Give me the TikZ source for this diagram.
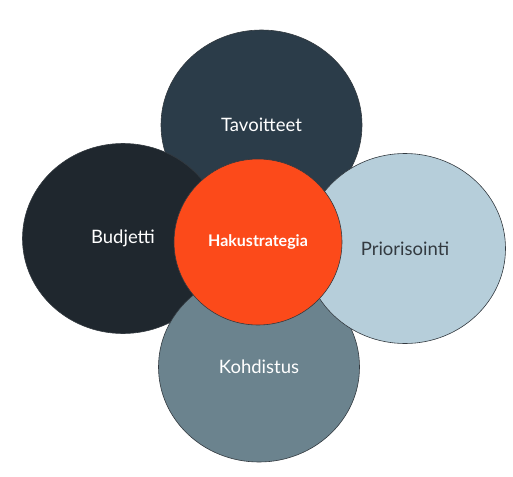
\documentclass[tikz,border=0pt]{standalone}
\usepackage{fontspec}
\setmainfont{Lato}
\usepackage{tikz}
\usetikzlibrary{shapes.geometric}
\definecolor{slate}{HTML}{2B3C49}
\definecolor{night}{HTML}{1F272E}
\definecolor{steel}{HTML}{6B838E}
\definecolor{mist}{HTML}{B6CEDA}
\definecolor{flame}{HTML}{FC4A1A}
\definecolor{rim}{HTML}{333A40}

\begin{document}
\begin{tikzpicture}[x=1pt,y=-1pt]
\tikzstyle{every node}+=[inner sep=0pt]
\tikzstyle{petal}=[ellipse, draw=rim, line width=0.6pt, minimum width=201pt, minimum height=190pt, text=white, font=\fontsize{18.5}{21}\selectfont]
\useasboundingbox (0,0) rectangle (513,476);
\node [petal, fill=slate] (tavoitteet) at (261.5,125) {Tavoitteet};
\node [petal, fill=night] (budjetti) at (123,238.5) {Budjetti};
\node [petal, fill=steel] (kohdistus) at (259,367) {Kohdistus};
\node [petal, fill=mist, text=rim] (priorisointi) at (405,248.5) {Priorisointi};
\node [ellipse, draw=rim, line width=0.6pt, fill=flame, minimum width=168pt, minimum height=166pt, text=white, font=\bfseries\fontsize{16}{19}\selectfont] (haku) at (258,242) {Hakustrategia};
\end{tikzpicture}
\end{document}
